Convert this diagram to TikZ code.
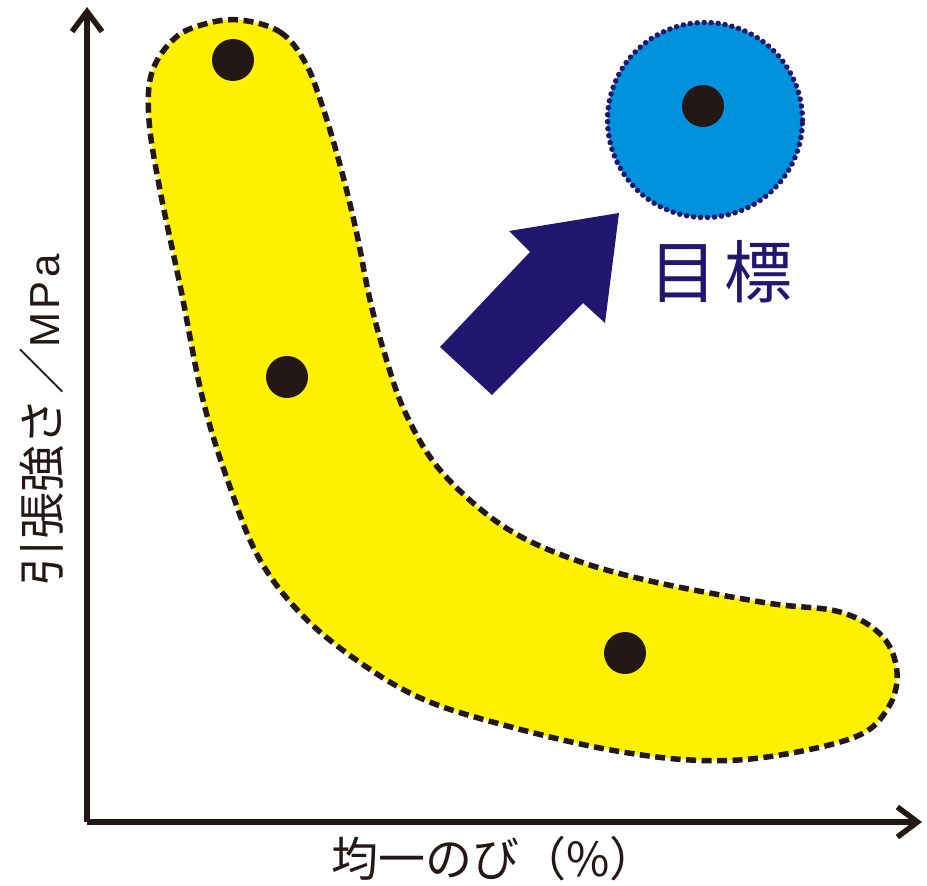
\documentclass[tikz,border=0pt]{standalone}
\usepackage{fontspec}
\setmainfont{Noto Sans CJK JP}
\newfontfamily\latinfont{Liberation Sans}
\usetikzlibrary{arrows.meta}
\definecolor{blobyellow}{RGB}{255,241,0}
\definecolor{goalblue}{RGB}{0,146,221}
\definecolor{navyink}{RGB}{33,22,112}
\definecolor{ink}{RGB}{35,24,22}
\begin{document}
\begin{tikzpicture}[x=1pt,y=-1pt,
  axisline/.style={draw=ink,line width=5.5pt,-{Straight Barb[length=20pt,width=30pt]}},
  dotnode/.style={circle,fill=ink,inner sep=0pt,minimum size=42pt},
  blob/.style={fill=blobyellow,draw=ink,line width=5.5pt,dash pattern=on 10pt off 5.5pt},
  goal/.style={circle,fill=goalblue,draw=navyink,line width=5.5pt,line cap=round,dash pattern=on 0pt off 7pt,inner sep=0pt,minimum size=195pt},
  bigarrow/.style={fill=navyink,draw=none},
  lbl/.style={text=ink,inner sep=0pt},
]
\useasboundingbox (0,0) rectangle (927,886);
% axes
\coordinate (origin) at (87,822);
\coordinate (ytip) at (87,7);
\coordinate (xtip) at (922,822);
\draw[axisline] (origin) -- (ytip);
\draw[axisline] (origin) -- (xtip);
% yellow region
\path[blob] plot[smooth cycle,tension=0.6] coordinates {
 (240,20) (280,32) (305,62) (322,105) (340,165) (356,230) (370,300) (385,355)
 (405,412) (440,470) (500,524) (567,557) (650,581) (767,603) (840,612) (882,636)
 (897,672) (888,708) (855,737) (767,757) (690,760) (600,748) (500,724) (425,700)
 (365,666) (305,618) (260,560) (230,487) (203,400) (181,290) (160,190) (149,120)
 (152,72) (175,38) (205,24)};
% data points
\node[dotnode] (p1) at (233,60) {};
\node[dotnode] (p2) at (287,377) {};
\node[dotnode] (p3) at (625,653) {};
% goal
\node[goal] (goal) at (705,120) {};
\node[dotnode] (p4) at (703,106) {};
\node[text=navyink,inner sep=0pt,font=\fontsize{68}{72}\selectfont] (goallabel) at (721,272) {目\hspace{7pt}標};
% big arrow
\path[bigarrow] (440,347) -- (492,395) -- (583,303) -- (605,323) -- (619,213) -- (509,231) -- (530,252) -- cycle;
% axis labels
\node[lbl,rotate=90,font=\fontsize{47}{50}\selectfont] (ylabel) at (42,420) {引張強さ\hspace{4pt}／{\latinfont\fontsize{42}{46}\selectfont M\hspace{3pt}P\hspace{4pt}a}};
\node[lbl,font=\fontsize{47}{50}\selectfont] (xlabel) at (494,859) {均一のび（\%）};
\end{tikzpicture}
\end{document}
